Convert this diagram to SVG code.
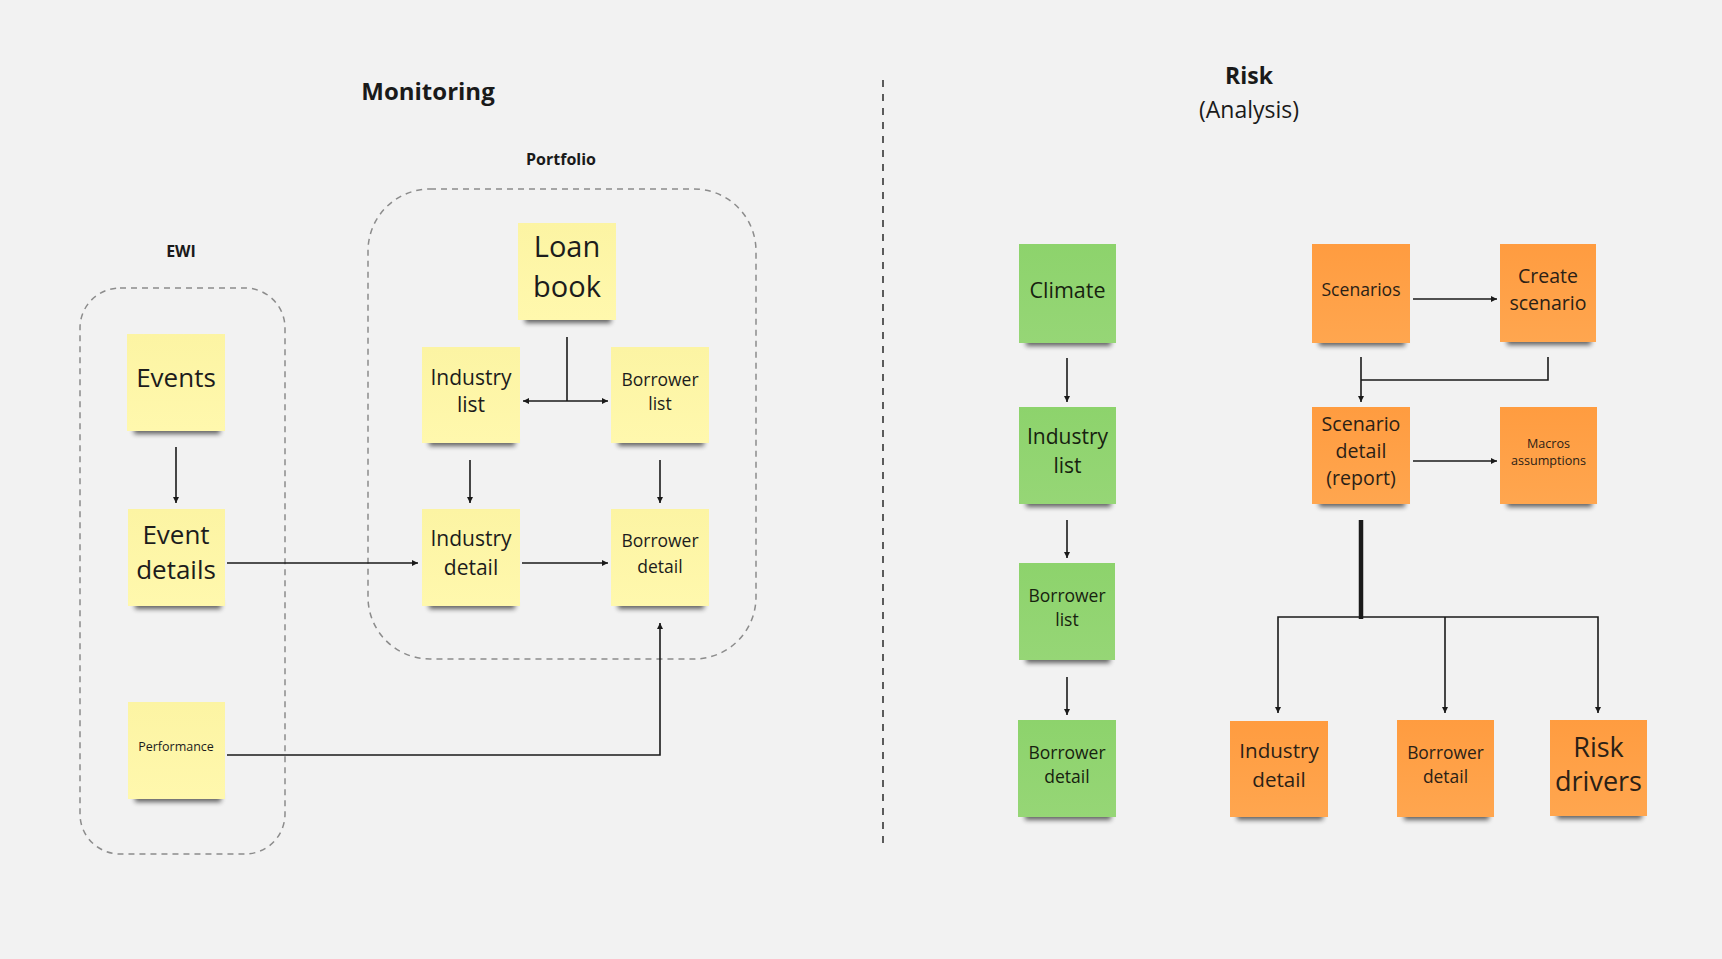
<svg xmlns="http://www.w3.org/2000/svg" width="1722" height="959" viewBox="0 0 1722 959">
  <defs>
    <style>
      .bg { fill: #f2f2f2; }
      .title { font-family: "Open Sans", "Noto Sans", "Liberation Sans", sans-serif; font-weight: 700; fill: #1a1a1a; text-anchor: middle; }
      .subtitle { font-family: "Open Sans", "Noto Sans", "Liberation Sans", sans-serif; font-weight: 400; fill: #1a1a1a; text-anchor: middle; }
      .label { font-family: "Open Sans", "Noto Sans", "Liberation Sans", sans-serif; font-weight: 700; fill: #1a1a1a; text-anchor: middle; }
      .note text { font-family: "Open Sans", "Noto Sans", "Liberation Sans", sans-serif; text-anchor: middle; dominant-baseline: central; fill: #1c1c1c; }
      .yellow rect.paper { fill: url(#gYellow); }
      .green rect.paper { fill: url(#gGreen); }
      .orange rect.paper { fill: url(#gOrange); }
      .orange text { fill: #2b2116; }
      .green text { fill: #17220f; }
      rect.shadow { fill: #000; opacity: 0.6; filter: url(#soft); }
      .frame { fill: none; stroke: #8c8c8c; stroke-width: 1.5; stroke-dasharray: 6 5; }
      .divider { fill: none; stroke: #2a2a2a; stroke-width: 1.5; stroke-dasharray: 7 7; stroke-dashoffset: -5; }
      .wire { fill: none; stroke: #1a1a1a; stroke-width: 1.6; }
      .wire.thick { stroke-width: 4.5; }
    </style>
    <linearGradient id="gYellow" x1="0" y1="0" x2="0" y2="1">
      <stop offset="0" stop-color="#fcf4a3"/>
      <stop offset="1" stop-color="#fff8ad"/>
    </linearGradient>
    <linearGradient id="gGreen" x1="0" y1="0" x2="0" y2="1">
      <stop offset="0" stop-color="#8dd36c"/>
      <stop offset="1" stop-color="#96d676"/>
    </linearGradient>
    <linearGradient id="gOrange" x1="0" y1="0" x2="0" y2="1">
      <stop offset="0" stop-color="#ff9c40"/>
      <stop offset="1" stop-color="#ffa64f"/>
    </linearGradient>
    <filter id="soft" x="-20%" y="-100%" width="140%" height="300%">
      <feGaussianBlur stdDeviation="2.5"/>
    </filter>
    <marker id="arrow" viewBox="0 0 10 10" refX="10" refY="5" markerWidth="6" markerHeight="6" markerUnits="userSpaceOnUse" orient="auto-start-reverse">
      <path d="M0,0 L10,5 L0,10 z" fill="#1a1a1a"/>
    </marker>
  </defs>

  <rect class="bg" x="0" y="0" width="1722" height="959"/>

  <!-- section headings -->
  <text class="title" x="428" y="100" font-size="24">Monitoring</text>
  <text class="title" x="1249" y="84" font-size="23">Risk</text>
  <text class="subtitle" x="1249" y="118" font-size="23">(Analysis)</text>
  <line class="divider" x1="883" y1="75" x2="883" y2="845"/>

  <!-- group frames -->
  <g id="group-ewi">
    <text class="label" x="181" y="257" font-size="16">EWI</text>
    <rect class="frame" x="80" y="288" width="205" height="566" rx="40" ry="40"/>
  </g>
  <g id="group-portfolio">
    <text class="label" x="561" y="165" font-size="16">Portfolio</text>
    <rect class="frame" x="368" y="189" width="388" height="470" rx="62" ry="62"/>
  </g>

  <!-- connectors -->
  <g id="connectors">
    <!-- monitoring -->
    <line class="wire" x1="176" y1="447" x2="176" y2="503" marker-end="url(#arrow)"/>
    <line class="wire" x1="567" y1="337" x2="567" y2="401"/>
    <line class="wire" x1="523" y1="401" x2="608" y2="401" marker-start="url(#arrow)" marker-end="url(#arrow)"/>
    <line class="wire" x1="470" y1="460" x2="470" y2="503" marker-end="url(#arrow)"/>
    <line class="wire" x1="660" y1="460" x2="660" y2="503" marker-end="url(#arrow)"/>
    <line class="wire" x1="227" y1="563" x2="418" y2="563" marker-end="url(#arrow)"/>
    <line class="wire" x1="522" y1="563" x2="608" y2="563" marker-end="url(#arrow)"/>
    <polyline class="wire" points="227,755 660,755 660,623" marker-end="url(#arrow)"/>
    <!-- climate chain -->
    <line class="wire" x1="1067" y1="358" x2="1067" y2="402" marker-end="url(#arrow)"/>
    <line class="wire" x1="1067" y1="520" x2="1067" y2="558" marker-end="url(#arrow)"/>
    <line class="wire" x1="1067" y1="677" x2="1067" y2="715" marker-end="url(#arrow)"/>
    <!-- scenarios -->
    <line class="wire" x1="1413" y1="299" x2="1497" y2="299" marker-end="url(#arrow)"/>
    <line class="wire" x1="1361" y1="357" x2="1361" y2="402" marker-end="url(#arrow)"/>
    <polyline class="wire" points="1548,357 1548,380 1361,380"/>
    <line class="wire" x1="1413" y1="461" x2="1497" y2="461" marker-end="url(#arrow)"/>
    <line class="wire thick" x1="1361" y1="520" x2="1361" y2="619"/>
    <polyline class="wire" points="1278,713 1278,617 1598,617 1598,713" marker-start="url(#arrow)" marker-end="url(#arrow)"/>
    <line class="wire" x1="1445" y1="617" x2="1445" y2="713" marker-end="url(#arrow)"/>
  </g>

  <!-- monitoring notes -->
  <g id="events" class="note yellow">
    <rect class="shadow" x="134" y="425" width="86" height="9"/>
    <rect class="paper" x="127" y="334" width="98" height="97"/>
    <text x="176" y="377" font-size="26">Events</text>
  </g>
  <g id="event-details" class="note yellow">
    <rect class="shadow" x="135" y="600" width="86" height="9"/>
    <rect class="paper" x="128" y="509" width="97" height="97"/>
    <text font-size="26"><tspan x="176" y="534">Event</tspan><tspan x="176" y="569">details</tspan></text>
  </g>
  <g id="performance" class="note yellow">
    <rect class="shadow" x="135" y="793" width="86" height="9"/>
    <rect class="paper" x="128" y="702" width="97" height="97"/>
    <text x="176" y="746" font-size="12.5">Performance</text>
  </g>
  <g id="loan-book" class="note yellow">
    <rect class="shadow" x="525" y="314" width="86" height="9"/>
    <rect class="paper" x="518" y="223" width="98" height="97"/>
    <text font-size="29"><tspan x="567" y="245">Loan</tspan><tspan x="567" y="285">book</tspan></text>
  </g>
  <g id="industry-list" class="note yellow">
    <rect class="shadow" x="429" y="437" width="86" height="9"/>
    <rect class="paper" x="422" y="347" width="98" height="96"/>
    <text font-size="21"><tspan x="471" y="377">Industry</tspan><tspan x="471" y="404">list</tspan></text>
  </g>
  <g id="borrower-list" class="note yellow">
    <rect class="shadow" x="618" y="437" width="86" height="9"/>
    <rect class="paper" x="611" y="347" width="98" height="96"/>
    <text font-size="17.5"><tspan x="660" y="379">Borrower</tspan><tspan x="660" y="403">list</tspan></text>
  </g>
  <g id="industry-detail" class="note yellow">
    <rect class="shadow" x="429" y="600" width="86" height="9"/>
    <rect class="paper" x="422" y="509" width="98" height="97"/>
    <text font-size="21"><tspan x="471" y="538">Industry</tspan><tspan x="471" y="567">detail</tspan></text>
  </g>
  <g id="borrower-detail" class="note yellow">
    <rect class="shadow" x="618" y="600" width="86" height="9"/>
    <rect class="paper" x="611" y="509" width="98" height="97"/>
    <text font-size="17.5"><tspan x="660" y="540">Borrower</tspan><tspan x="660" y="566">detail</tspan></text>
  </g>

  <!-- risk: climate chain -->
  <g id="climate" class="note green">
    <rect class="shadow" x="1026" y="337" width="85" height="9"/>
    <rect class="paper" x="1019" y="244" width="97" height="99"/>
    <text x="1067.5" y="289" font-size="21.5">Climate</text>
  </g>
  <g id="climate-industry-list" class="note green">
    <rect class="shadow" x="1026" y="498" width="85" height="9"/>
    <rect class="paper" x="1019" y="407" width="97" height="97"/>
    <text font-size="21"><tspan x="1067.5" y="436">Industry</tspan><tspan x="1067.5" y="465">list</tspan></text>
  </g>
  <g id="climate-borrower-list" class="note green">
    <rect class="shadow" x="1026" y="654" width="84" height="9"/>
    <rect class="paper" x="1019" y="563" width="96" height="97"/>
    <text font-size="17.5"><tspan x="1067" y="595">Borrower</tspan><tspan x="1067" y="619">list</tspan></text>
  </g>
  <g id="climate-borrower-detail" class="note green">
    <rect class="shadow" x="1025" y="811" width="86" height="9"/>
    <rect class="paper" x="1018" y="720" width="98" height="97"/>
    <text font-size="17.5"><tspan x="1067" y="752">Borrower</tspan><tspan x="1067" y="776">detail</tspan></text>
  </g>

  <!-- risk: scenarios -->
  <g id="scenarios" class="note orange">
    <rect class="shadow" x="1319" y="337" width="86" height="9"/>
    <rect class="paper" x="1312" y="244" width="98" height="99"/>
    <text x="1361" y="289" font-size="17.6">Scenarios</text>
  </g>
  <g id="create-scenario" class="note orange">
    <rect class="shadow" x="1507" y="336" width="84" height="9"/>
    <rect class="paper" x="1500" y="244" width="96" height="98"/>
    <text font-size="19.5"><tspan x="1548" y="275">Create</tspan><tspan x="1548" y="302">scenario</tspan></text>
  </g>
  <g id="scenario-detail" class="note orange">
    <rect class="shadow" x="1319" y="498" width="86" height="9"/>
    <rect class="paper" x="1312" y="407" width="98" height="97"/>
    <text font-size="19.6"><tspan x="1361" y="423">Scenario</tspan><tspan x="1361" y="450">detail</tspan><tspan x="1361" y="477">(report)</tspan></text>
  </g>
  <g id="macros-assumptions" class="note orange">
    <rect class="shadow" x="1507" y="498" width="85" height="9"/>
    <rect class="paper" x="1500" y="407" width="97" height="97"/>
    <text font-size="12.6"><tspan x="1548.5" y="443">Macros</tspan><tspan x="1548.5" y="460">assumptions</tspan></text>
  </g>
  <g id="risk-industry-detail" class="note orange">
    <rect class="shadow" x="1237" y="811" width="86" height="9"/>
    <rect class="paper" x="1230" y="721" width="98" height="96"/>
    <text font-size="20.6"><tspan x="1279" y="750">Industry</tspan><tspan x="1279" y="779">detail</tspan></text>
  </g>
  <g id="risk-borrower-detail" class="note orange">
    <rect class="shadow" x="1404" y="811" width="85" height="9"/>
    <rect class="paper" x="1397" y="720" width="97" height="97"/>
    <text font-size="17.4"><tspan x="1445.5" y="752">Borrower</tspan><tspan x="1445.5" y="776">detail</tspan></text>
  </g>
  <g id="risk-drivers" class="note orange">
    <rect class="shadow" x="1557" y="810" width="85" height="9"/>
    <rect class="paper" x="1550" y="720" width="97" height="96"/>
    <text font-size="27"><tspan x="1598.5" y="746">Risk</tspan><tspan x="1598.5" y="780">drivers</tspan></text>
  </g>
</svg>
